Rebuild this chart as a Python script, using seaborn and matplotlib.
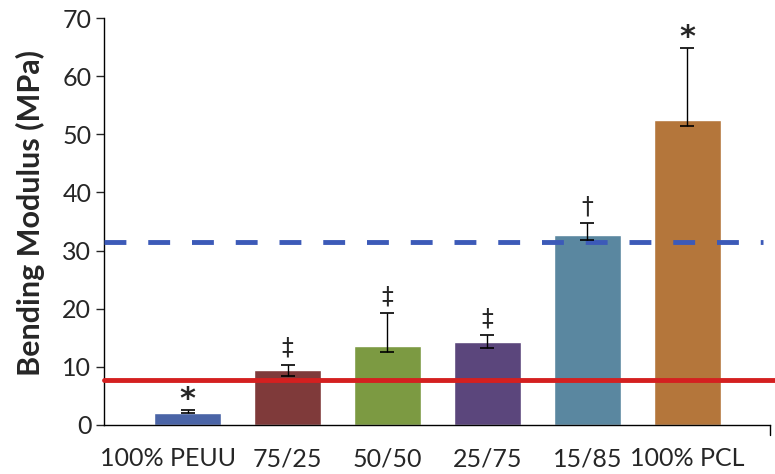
import matplotlib
matplotlib.use("Agg")
import matplotlib.pyplot as plt
import matplotlib.transforms as mtransforms
import seaborn as sns
import pandas as pd
import numpy as np

# Flexural (bending) modulus by PEUU/PCL blend ratio
groups = ["100% PEUU", "75/25", "50/50", "25/75", "15/85", "100% PCL"]
modulus = [2.1, 9.4, 13.6, 14.2, 32.7, 52.4]
err_low = [2.1, 8.5, 12.6, 13.2, 31.8, 51.4]
err_high = [2.6, 10.4, 19.3, 15.4, 34.7, 64.8]
marks = ["*", "‡", "‡", "‡", "†", "*"]
bar_colors = ["#4a64a6", "#7f3a3a", "#7c9a42", "#5b467c", "#5a87a0", "#b4763b"]

native_tissue_low = 7.7     # solid red reference
native_tissue_high = 31.4   # dashed blue reference

sns.set_theme(style="white")
plt.rcParams["font.family"] = ["Lato", "DejaVu Sans"]

df = pd.DataFrame({"group": groups, "modulus": modulus})

fig = plt.figure(figsize=(7.75, 4.74), dpi=100)
ax = fig.add_axes([0.134, 0.1034, 0.8595, 0.8586])

sns.barplot(data=df, x="group", y="modulus", hue="group", palette=bar_colors,
            width=0.67, legend=False, ax=ax, saturation=1, errorbar=None)

x = np.arange(len(groups))
vals = np.array(modulus)
lower = vals - np.array(err_low)
upper = np.array(err_high) - vals
ax.errorbar(x, vals, yerr=[lower, upper], fmt="none", ecolor="black",
            elinewidth=1.0, capsize=5, capthick=1.2, zorder=4)

ax.axhline(native_tissue_high, color="#3c5ab8", lw=3.5, ls=(0, (4.5, 4.5)), zorder=3,
           xmin=0.0, xmax=0.99)
ax.axhline(native_tissue_low, color="#d42020", lw=3.5, zorder=5, clip_on=False,
           xmin=0.0, xmax=1.01)

for xi, top, m in zip(x, err_high, marks):
    if m == "*":
        ax.text(xi, top - 0.7, m, ha="center", va="bottom", fontsize=22,
                fontweight="bold", family="DejaVu Sans")
    else:
        ax.text(xi, top + 0.8, m, ha="center", va="bottom", fontsize=17,
                family="DejaVu Sans")

ax.set_ylim(0, 70)
ax.set_xlim(-0.84, 5.83)
ax.set_yticks(range(0, 71, 10))
ax.set_xlabel("")
ax.set_ylabel("Bending Modulus (MPa)", fontsize=22, fontweight="bold")
ax.yaxis.set_label_coords(-0.088, 0.52)
ax.tick_params(axis="y", labelsize=18, length=6, width=1, direction="out", left=True, pad=3)
ax.tick_params(axis="x", labelsize=18, length=0, pad=16)

# nudge the long first category label left so it clears its neighbour
first = ax.get_xticklabels()[0]
first.set_transform(first.get_transform() +
                    mtransforms.ScaledTranslation(-0.2, 0, fig.dpi_scale_trans))

ax.spines["top"].set_visible(False)
ax.spines["right"].set_visible(False)
for s in ["left", "bottom"]:
    ax.spines[s].set_color("black")
    ax.spines[s].set_linewidth(1)

# closing tick at the right end of the category axis
ax.plot([5.83, 5.83], [0, -1.7], color="black", lw=1, clip_on=False)

fig.savefig("out.png", dpi=100)
